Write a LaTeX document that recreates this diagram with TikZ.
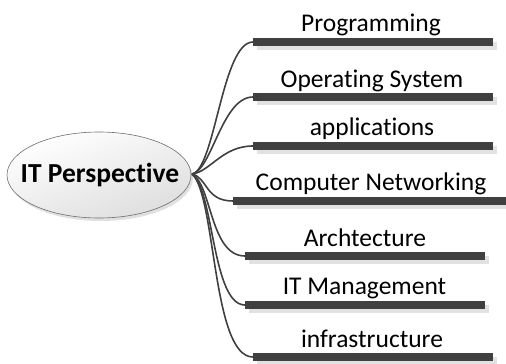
\documentclass[tikz,border=0pt]{standalone}
\usepackage{fontspec}
\setmainfont[Ligatures=NoCommon]{Carlito}
\usetikzlibrary{shapes.geometric}
\definecolor{bardark}{HTML}{404040}
\definecolor{barshade}{HTML}{E2E2E2}
\definecolor{rimgray}{HTML}{6E6E6E}
\begin{document}
\begin{tikzpicture}[x=1pt,y=-1pt,
  topic/.style={inner sep=0pt, anchor=base, font=\fontsize{25.5}{30}\selectfont},
  branch/.style={draw=bardark, line width=1.6pt},
  bar/.style={fill=bardark, draw=none},
  barshadow/.style={fill=barshade, draw=none}]
\useasboundingbox (0,0) rectangle (506,364);

% central topic
\fill[black!12] (101,178) ellipse [x radius=92, y radius=43];
\node[ellipse, minimum width=184pt, minimum height=86pt, inner sep=0pt,
      draw=rimgray, line width=0.6pt,
      top color=white, bottom color=black!13, shading angle=20]
      (root) at (99,175) {};
\node[font=\fontsize{27.5}{32}\bfseries\selectfont, anchor=base] at (100,182) {IT Perspective};
\coordinate (hub) at (192,174);

% subtopic bars: left x, right x, top y
\foreach \nm/\xl/\xr/\yt in {b1/253/493/38, b2/253/493/93, b3/253/493/142,
    b4/233/506/197, b5/245/485/252, b6/245/485/301, b7/253/493/353}{
  \fill[barshadow] (\xl+4,\yt+4) rectangle (\xr+4,\yt+12);
  \fill[bar] (\xl,\yt) rectangle (\xr,\yt+8);
  \coordinate (\nm) at (\xl,\yt+4);
}

% subtopic labels
\node[topic] (t1) at (371,31) {Programming};
\node[topic] (t2) at (372,87) {Operating System};
\node[topic] (t3) at (372,135) {applications};
\node[topic] (t4) at (371,190) {Computer Networking};
\node[topic] (t5) at (365,246) {Archtecture};
\node[topic] (t6) at (364.5,294) {IT Management};
\node[topic] (t7) at (372,347) {infrastructure};

% curved branches from the hub
\draw[branch] (hub) .. controls (215,170) and (222,42) .. (b1);
\draw[branch] (hub) .. controls (212,170) and (222,97) .. (b2);
\draw[branch] (hub) .. controls (210,172) and (222,146) .. (b3);
\draw[branch] (hub) .. controls (208,178) and (205,201) .. (b4);
\draw[branch] (hub) .. controls (212,185) and (210,256) .. (b5);
\draw[branch] (hub) .. controls (214,190) and (212,305) .. (b6);
\draw[branch] (hub) .. controls (216,195) and (212,357) .. (b7);
\end{tikzpicture}
\end{document}
